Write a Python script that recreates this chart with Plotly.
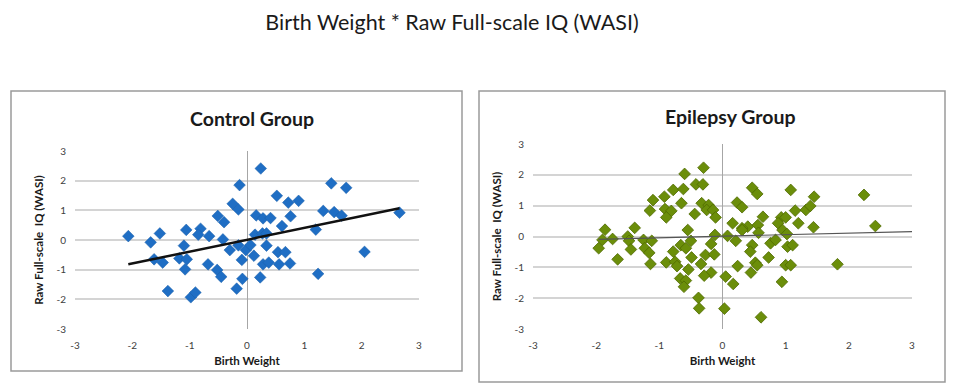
import plotly.graph_objects as go

# ---------------- data ----------------
control_x = [-2.07, -1.68, -1.52, -1.62, -1.47, -1.38, -1.06, -1.10, -1.18, -1.05,
             -1.08, -0.98, -0.90, -0.81, -0.85, -0.66, -0.40, -0.42, -0.68, -0.52,
             -0.45, -0.30, -0.18, -0.15, 0.61, 0.14, 0.27, 0.34, 1.20, -0.02,
             0.06, 0.34, 0.12, -0.09, 0.54, 0.67, 0.28, 0.38, 0.56, 0.75,
             2.05, -0.08, 0.23, 1.24, 0.24, -0.13, -0.25, -0.15, 0.52, 0.72,
             0.90, 1.47, 1.73, 0.16, 0.28, 0.41, 0.76, 1.33, 1.52, 1.65,
             2.66, -0.51]
control_y = [0.13, -0.08, 0.22, -0.65, -0.76, -1.72, 0.34, -0.19, -0.62, -0.65,
             -0.99, -1.93, -1.77, 0.38, 0.18, 0.13, 0.60, 0.02, -0.82, -1.01,
             -1.24, -0.34, -1.64, -0.18, 0.47, 0.18, 0.22, 0.22, 0.35, -0.34,
             -0.17, -0.19, -0.53, -0.67, -0.41, -0.41, -0.82, -0.76, -0.82, -0.79,
             -0.40, -1.31, -1.26, -1.14, 2.41, 1.85, 1.22, 1.03, 1.49, 1.26,
             1.32, 1.91, 1.76, 0.83, 0.73, 0.74, 0.80, 0.98, 0.94, 0.82,
             0.92, 0.81]
control_trend_x = [-2.07, 2.66]
control_trend_y = [-0.82, 1.07]

epilepsy_x = [-0.30, -0.60, -0.42, -0.31, -0.78, -0.62, -0.92, -1.10, -0.65, -0.33,
              -0.22, -1.15, -0.91, -0.81, -0.89, -0.44, -0.25, -0.15, -0.11, -1.86,
              -1.39, -0.55, -1.90, -1.74, -1.50, -1.48, -1.25, -1.12, -1.96, -1.45,
              -1.23, -1.16, -1.66, -1.14, -0.50, -0.66, -0.58, -0.78, -0.89, -0.75,
              -0.72, -0.49, -0.54, -0.67, -0.58, -0.61, -0.18, -0.27, -0.13, -0.34,
              -0.18, -0.29, -0.38, -0.37, -0.12,
              0.47, 0.55, 1.08, 1.45, 2.24, 0.23, 0.31, 1.15, 1.32, 1.39,
              0.64, 0.93, 1.00, 0.16, 1.20, 0.88, 0.56, 0.40, 0.31, 1.44,
              2.42, 0.31, 0.57, 0.95, 1.02, 0.08, 0.21, 0.47, 0.44, 0.76,
              0.84, 1.03, 1.11, 0.73, 0.24, 0.52, 0.55, 0.45, 1.00, 1.08,
              1.82, 0.05, 0.17, 0.94, 0.03, 0.61]
epilepsy_y = [2.23, 2.03, 1.69, 1.69, 1.51, 1.54, 1.29, 1.18, 1.08, 1.08,
              1.02, 0.84, 0.89, 0.83, 0.62, 0.73, 0.86, 0.86, 0.62, 0.22,
              0.28, 0.21, -0.11, -0.08, 0.00, -0.14, -0.11, -0.14, -0.38, -0.42,
              -0.38, -0.53, -0.74, -0.89, -0.14, -0.28, -0.38, -0.49, -0.84, -0.82,
              -0.96, -0.68, -1.07, -1.36, -1.43, -1.63, -0.24, -0.60, -0.58, -0.89,
              -1.17, -1.27, -1.99, -2.33, 0.05,
              1.58, 1.38, 1.51, 1.29, 1.35, 1.10, 0.95, 0.84, 0.86, 0.99,
              0.64, 0.62, 0.62, 0.43, 0.43, 0.43, 0.37, 0.32, 0.27, 0.30,
              0.34, 0.21, 0.12, 0.21, 0.08, 0.02, -0.14, -0.28, -0.49, -0.22,
              -0.11, -0.33, -0.28, -0.68, -0.96, -0.85, -0.93, -1.17, -0.93, -0.93,
              -0.90, -1.30, -1.54, -1.47, -2.34, -2.62]
epilepsy_trend_x = [-1.96, 3.0]
epilepsy_trend_y = [-0.09, 0.16]

tick_vals = [-3, -2, -1, 0, 1, 2, 3]
tick_text = ["-3", "-2", "-1", "0", "1", "2", "3"]

main_title = "Birth Weight * Raw Full-scale IQ (WASI)"
left_title = "Control Group"
right_title = "Epilepsy Group"
x_title = "Birth Weight"
y_title = "Raw Full-scale  IQ (WASI)"

# ---------------- figure ----------------
# the page body has an 8px margin, so the figure is sized to fit the window
OFF = 8
W, H = 954 - OFF, 384 - OFF
FONT = "Lato, 'Open Sans', sans-serif"

fig = go.Figure()

fig.add_trace(go.Scatter(
    x=control_x, y=control_y, mode="markers", xaxis="x", yaxis="y",
    marker=dict(symbol="diamond", size=9, color="#1f6ec4",
                line=dict(color="#1a5fa8", width=0.5)),
    hoverinfo="skip", showlegend=False))
fig.add_trace(go.Scatter(
    x=control_trend_x, y=control_trend_y, mode="lines", xaxis="x", yaxis="y",
    line=dict(color="#111111", width=2.5), hoverinfo="skip", showlegend=False))

fig.add_trace(go.Scatter(
    x=epilepsy_x, y=epilepsy_y, mode="markers", xaxis="x2", yaxis="y2",
    marker=dict(symbol="diamond", size=9, color="#6b8e0a",
                line=dict(color="#4f6a00", width=0.8)),
    hoverinfo="skip", showlegend=False))
fig.add_trace(go.Scatter(
    x=epilepsy_trend_x, y=epilepsy_trend_y, mode="lines", xaxis="x2", yaxis="y2",
    line=dict(color="#555555", width=1.2), hoverinfo="skip", showlegend=False))


def px_x(p):
    return (p - OFF) / W


def px_y(p):
    return 1 - (p - OFF) / H


axis_common = dict(
    range=[-3, 3], tickvals=tick_vals, ticktext=tick_text,
    showgrid=False, showline=False, ticks="", automargin=False,
    tickfont=dict(family=FONT, size=10, color="#404040"),
    fixedrange=True,
)
xaxis_common = dict(axis_common, zeroline=True, zerolinecolor="#a6a6a6",
                    zerolinewidth=1.2, ticklabelstandoff=9)
yaxis_common = dict(axis_common, showgrid=True, gridcolor="#d4d4d4",
                    gridwidth=1.5, zeroline=False, ticklabelstandoff=8)

title_font = dict(family=FONT, size=11.5, color="#1a1a1a", weight="bold")

fig.update_layout(
    width=W, height=H,
    margin=dict(l=0, r=0, t=0, b=0),
    paper_bgcolor="white", plot_bgcolor="white",
    title=dict(text=main_title, x=px_x(452), y=px_y(22),
               xanchor="center", yanchor="middle", automargin=False,
               font=dict(family=FONT, size=21.5, color="#1a1a1a")),
    xaxis=dict(xaxis_common, domain=[px_x(75), px_x(419)], anchor="y",
               title=dict(text=x_title, font=title_font, standoff=6)),
    yaxis=dict(yaxis_common, domain=[px_y(329), px_y(151)], anchor="x",
               title=dict(text=y_title, font=title_font, standoff=10)),
    xaxis2=dict(xaxis_common, domain=[px_x(533), px_x(912)], anchor="y2",
                title=dict(text=x_title, font=title_font, standoff=6)),
    yaxis2=dict(yaxis_common, domain=[px_y(329), px_y(144)], anchor="x2",
                title=dict(text=y_title, font=title_font, standoff=10)),
    shapes=[
        dict(type="rect", xref="paper", yref="paper",
             x0=px_x(11), x1=px_x(462), y0=px_y(371), y1=px_y(91),
             line=dict(color="#9a9a9a", width=1.5), fillcolor="rgba(0,0,0,0)",
             layer="below"),
        dict(type="rect", xref="paper", yref="paper",
             x0=px_x(479), x1=px_x(945), y0=px_y(382), y1=px_y(91),
             line=dict(color="#9a9a9a", width=1.5), fillcolor="rgba(0,0,0,0)",
             layer="below"),
    ],
    annotations=[
        dict(text=left_title, x=px_x(252), y=px_y(118), xref="paper", yref="paper",
             xanchor="center", yanchor="middle", showarrow=False,
             font=dict(family=FONT, size=19.5, color="#1a1a1a", weight="bold")),
        dict(text=right_title, x=px_x(730), y=px_y(116), xref="paper", yref="paper",
             xanchor="center", yanchor="middle", showarrow=False,
             font=dict(family=FONT, size=19.5, color="#1a1a1a", weight="bold")),
    ],
)

fig.write_html("out.html")
